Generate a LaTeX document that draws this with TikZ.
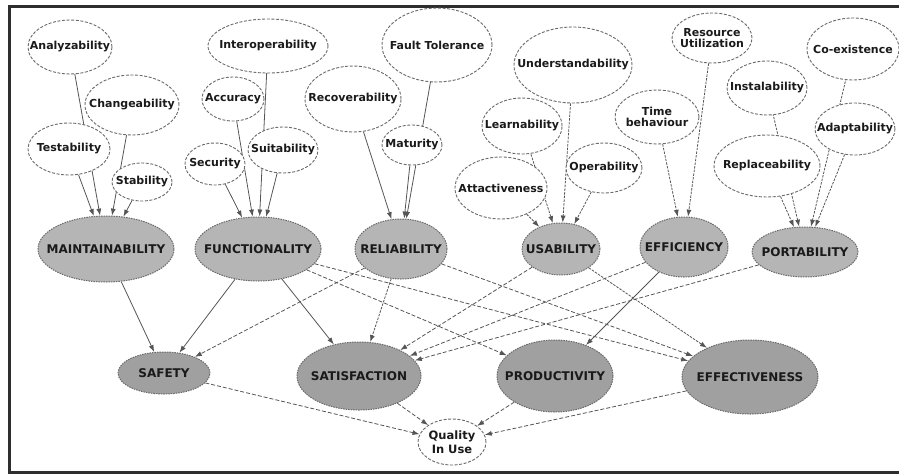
\documentclass[tikz,border=0pt]{standalone}
\usepackage{fontspec}
\setmainfont{DejaVu Sans}
\usetikzlibrary{shapes.geometric,arrows.meta}
\pgfdeclarelayer{edges}
\pgfsetlayers{edges,main}
\definecolor{charfill}{HTML}{B5B5B5}
\definecolor{outfill}{HTML}{A0A0A0}
\definecolor{linegray}{HTML}{555555}
\definecolor{bordergray}{HTML}{6A6A6A}
\definecolor{txt}{HTML}{1A1A1A}
\definecolor{framecol}{HTML}{2E2E2E}
\newcommand\zw[1]{\makebox[0pt]{\shortstack{#1}}}
\tikzset{
  sub/.style={ellipse, draw=bordergray, dash pattern=on 3pt off 1.6pt, fill=white,
    line width=0.9pt, inner sep=0pt, font=\bfseries\fontsize{11}{11.5}\selectfont,
    text=txt},
  chr/.style={ellipse, draw=bordergray, dash pattern=on 1.5pt off 1pt, fill=charfill,
    line width=1pt, inner sep=0pt, font=\bfseries\fontsize{12}{13}\selectfont, text=txt},
  outc/.style={chr, fill=outfill},
  qual/.style={sub, font=\bfseries\fontsize{11.5}{12}\selectfont},
  solidarrow/.style={draw=linegray, line width=0.8pt, solid, -{Latex[length=7pt,width=5pt]}},
  dotarrow/.style={solidarrow, dash pattern=on 2.5pt off 1.2pt},
  dasharrow/.style={solidarrow, dash pattern=on 4pt off 2pt},
}
\begin{document}
\begin{tikzpicture}[x=1pt, y=-1pt]
\useasboundingbox (0,0) rectangle (899,475);
\draw[framecol, line width=3pt] (899,6) -- (9,6) -- (9,472) -- (899,472);

% sub-characteristics
\node[sub, minimum width=84pt, minimum height=54pt] (ana) at (70,47) {\zw{Analyzability}};
\node[sub, minimum width=94pt, minimum height=60pt] (cha) at (132,105) {\zw{Changeability}};
\node[sub, minimum width=82pt, minimum height=52pt] (tes) at (69,149) {\zw{Testability}};
\node[sub, minimum width=60pt, minimum height=38pt] (sta) at (142,182) {\zw{Stability}};
\node[sub, minimum width=60pt, minimum height=42pt] (sec) at (215,164) {\zw{Security}};
\node[sub, minimum width=62pt, minimum height=44pt] (acc) at (233,99) {\zw{Accuracy}};
\node[sub, minimum width=120pt, minimum height=54pt] (int) at (268,46) {\zw{Interoperability}};
\node[sub, minimum width=70pt, minimum height=46pt] (sui) at (283,150) {\zw{Suitability}};
\node[sub, minimum width=96pt, minimum height=66pt] (rec) at (353,99) {\zw{Recoverability}};
\node[sub, minimum width=110pt, minimum height=74pt] (fau) at (437,45) {\zw{Fault Tolerance}};
\node[sub, minimum width=60pt, minimum height=40pt] (mat) at (412,145) {\zw{Maturity}};
\node[sub, minimum width=118pt, minimum height=76pt] (und) at (573,65) {\zw{Understandability}};
\node[sub, minimum width=80pt, minimum height=56pt] (lea) at (522,126) {\zw{Learnability}};
\node[sub, minimum width=76pt, minimum height=50pt] (ope) at (604,168) {\zw{Operability}};
\node[sub, minimum width=92pt, minimum height=62pt] (att) at (501,188) {\zw{Attactiveness}};
\node[sub, minimum width=84pt, minimum height=54pt] (tim) at (657,117) {\zw{Time\\behaviour}};
\node[sub, minimum width=80pt, minimum height=50pt] (res) at (712,38) {\zw{Resource\\Utilization}};
\node[sub, minimum width=92pt, minimum height=62pt] (coe) at (853,49) {\zw{Co-existence}};
\node[sub, minimum width=80pt, minimum height=54pt] (ins) at (767,88) {\zw{Instalability}};
\node[sub, minimum width=80pt, minimum height=52pt] (ada) at (855,129) {\zw{Adaptability}};
\node[sub, minimum width=106pt, minimum height=62pt] (rep) at (767,166) {\zw{Replaceability}};

% characteristics
\node[chr, minimum width=136pt, minimum height=66pt] (mai) at (106,249) {\zw{MAINTAINABILITY}};
\node[chr, minimum width=126pt, minimum height=64pt] (fun) at (258,249) {\zw{FUNCTIONALITY}};
\node[chr, minimum width=92pt, minimum height=60pt] (rel) at (401,249) {\zw{RELIABILITY}};
\node[chr, minimum width=78pt, minimum height=52pt] (usa) at (561,249) {\zw{USABILITY}};
\node[chr, minimum width=88pt, minimum height=60pt] (eff) at (684,247) {\zw{EFFICIENCY}};
\node[chr, minimum width=106pt, minimum height=50pt] (por) at (805,252) {\zw{PORTABILITY}};

% quality in use characteristics
\node[outc, minimum width=92pt, minimum height=42pt] (saf) at (164,373) {\zw{SAFETY}};
\node[outc, minimum width=124pt, minimum height=68pt] (sat) at (359,376) {\zw{SATISFACTION}};
\node[outc, minimum width=116pt, minimum height=72pt] (pro) at (555,376) {\zw{PRODUCTIVITY}};
\node[outc, minimum width=136pt, minimum height=74pt] (efv) at (750,377) {\zw{EFFECTIVENESS}};
\node[qual, minimum width=68pt, minimum height=46pt] (qiu) at (452,442) {\zw{Quality\\In Use}};

\begin{pgfonlayer}{edges}
% maintainability
\draw[solidarrow] (ana.center) -- (mai);
\draw[solidarrow] (tes) -- (mai);
\draw[solidarrow] (cha) -- (mai);
\draw[solidarrow] (sta) -- (mai);
% functionality
\draw[solidarrow] (sec) -- (fun);
\draw[solidarrow] (acc) -- (fun);
\draw[solidarrow] (int.center) -- (fun);
\draw[solidarrow] (sui) -- (fun);
% reliability
\draw[solidarrow] (rec) -- (rel);
\draw[solidarrow] (fau.center) -- (rel);
\draw[solidarrow] (mat) -- (rel);
% usability
\draw[dotarrow] (att) -- (usa);
\draw[dotarrow] (lea.center) -- (usa);
\draw[dotarrow] (und) -- (usa);
\draw[dotarrow] (ope) -- (usa);
% efficiency
\draw[dotarrow] (tim) -- (eff);
\draw[dotarrow] (res) -- (eff);
% portability
\draw[dotarrow] (rep) -- (por);
\draw[dotarrow] (ins.center) -- (por);
\draw[dotarrow] (ada) -- (por);
\draw[dotarrow] (coe.center) -- (por);
% characteristics to quality in use characteristics
\draw[solidarrow] (mai) -- (saf);
\draw[solidarrow] (fun) -- (saf);
\draw[dasharrow] (rel) -- (saf);
\draw[solidarrow] (fun) -- (sat);
\draw[dotarrow] (rel) -- (sat);
\draw[dasharrow] (fun) -- (pro);
\draw[dasharrow] (fun) -- (efv);
\draw[dasharrow] (rel) -- (efv);
\draw[dotarrow] (usa) -- (efv);
\draw[dasharrow] (usa) -- (sat);
\draw[dasharrow] (eff) -- (sat);
\draw[dasharrow] (por) -- (sat);
\draw[solidarrow] (eff) -- (pro);
% to quality in use
\draw[dasharrow] (saf) -- (qiu);
\draw[dasharrow] (sat) -- (qiu);
\draw[dasharrow] (pro) -- (qiu);
\draw[dasharrow] (efv) -- (qiu);
\end{pgfonlayer}
\end{tikzpicture}
\end{document}
